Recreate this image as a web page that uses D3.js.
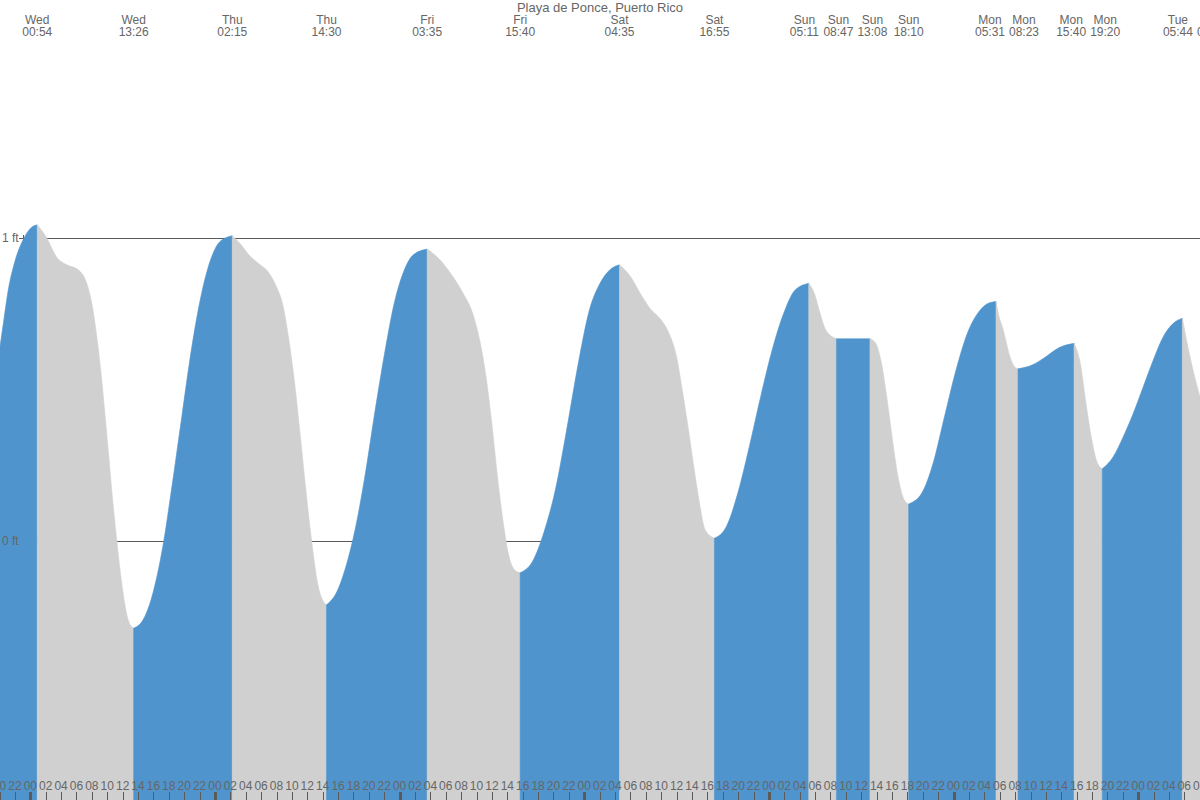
<!DOCTYPE html>
<html><head><meta charset="utf-8">
<script src="https://cdn.jsdelivr.net/npm/d3@7"></script>
<style>html,body{margin:0;padding:0;background:#fff;overflow:hidden}</style>
</head><body><svg id="chart" width="1200" height="800"></svg>
<script>
// ---------- data ----------
const title = "Playa de Ponce, Puerto Rico";
const baseDate = "2024-01-03T00:00:00Z"; // a Wednesday, hours below are counted from its midnight
const viewHours = [-3.94, 152.03];
const feetDomain = [-0.855, 1.785];

const extremeHours = [0.9, 13.433, 26.25, 38.5, 51.583, 63.667, 76.583, 88.917, 101.183, 104.783, 109.133, 114.167, 125.517, 128.383, 135.667, 139.333, 149.733, 153.0];
const extremeFeet  = [1.043, -0.288, 1.007, -0.211, 0.963, -0.105, 0.911, 0.009, 0.850, 0.667, 0.667, 0.122, 0.790, 0.568, 0.652, 0.238, 0.735, 0.40];
const extremeDay   = ["Wed","Wed","Thu","Thu","Fri","Fri","Sat","Sat","Sun","Sun","Sun","Sun","Mon","Mon","Mon","Mon","Tue","Tue"];
const extremeTime  = ["00:54","13:26","02:15","14:30","03:35","15:40","04:35","16:55","05:11","08:47","13:08","18:10","05:31","08:23","15:40","19:20","05:44","09:00"];

const curveHours = [
  -4.46,-3.94,-3.44,-2.94,-1.95,-0.95,0.04,
  2.03,3.52,4.77,6.26,7.25,7.99,8.75,9.24,9.73,10.24,10.74,11.23,11.72,12.23,12.72,
  14.71,15.96,17.20,18.44,19.69,20.93,22.17,23.42,24.66,
  27.40,28.40,29.88,30.88,31.87,32.87,33.61,34.36,35.10,35.86,36.60,37.34,38.09,
  39.84,41.07,42.32,43.57,44.80,46.05,47.30,48.53,49.78,
  53.26,54.76,56.25,57.49,58.49,59.23,59.98,60.72,61.48,62.22,62.96,
  65.27,66.75,68.24,69.68,71.18,72.67,74.05,75.30,
  78.02,79.27,80.52,82.00,83.00,83.99,84.74,85.48,86.24,86.98,87.72,
  90.46,91.95,93.45,94.93,96.42,97.92,99.41,
  101.90,102.65,103.39,
  109.88,110.63,111.37,112.12,112.86,113.60,
  115.85,117.34,118.82,120.32,121.81,123.31,124.29,
  125.81,126.46,127.33,127.98,
  130.27,132.0,133.74,
  136.47,137.21,137.97,138.71,
  140.76,142.06,143.36,144.66,145.96,147.26,148.56,
  150.73,152.03
];
const curveFeet = [
  0.55,0.641,0.729,0.817,0.927,0.993,1.032,
  1.004,0.933,0.911,0.894,0.856,0.784,0.652,0.542,0.410,0.267,0.124,0.003,-0.107,-0.200,-0.261,
  -0.258,-0.170,-0.022,0.185,0.410,0.630,0.806,0.927,0.988,
  0.977,0.944,0.911,0.889,0.845,0.773,0.663,0.520,0.344,0.157,-0.008,-0.140,-0.200,
  -0.168,-0.080,0.050,0.226,0.428,0.619,0.784,0.889,0.944,
  0.927,0.878,0.817,0.751,0.652,0.542,0.388,0.212,0.058,-0.052,-0.096,
  -0.068,0.028,0.168,0.362,0.580,0.762,0.850,0.894,
  0.872,0.817,0.768,0.729,0.686,0.608,0.498,0.377,0.245,0.124,0.036,
  0.047,0.157,0.311,0.476,0.630,0.751,0.828,
  0.817,0.751,0.696,
  0.652,0.586,0.465,0.322,0.201,0.135,
  0.157,0.256,0.410,0.564,0.686,0.757,0.781,
  0.751,0.696,0.608,0.573,
  0.581,0.608,0.638,
  0.586,0.454,0.333,0.256,
  0.278,0.344,0.421,0.509,0.597,0.674,0.718,
  0.608,0.476
];
const yTickValues = [0, 1];
const yTickLabels = ["0 ft", "1 ft"];

// ---------- drawing ----------
const W = 1200, H = 800;
const BLUE = "#4f94cd", GREY = "#d0d0d0", TEXT = "#666", LINE = "#5a5a5a";
const FONT = "'Liberation Sans', Arial, Helvetica, sans-serif";
const base = new Date(baseDate).getTime();
const toDate = h => new Date(base + h * 3600000);

const x = d3.scaleUtc().domain(viewHours.map(toDate)).range([0, W]);
const y = d3.scaleLinear().domain(feetDomain).range([H, 0]);

const svg = d3.select("#chart").style("font-family", FONT);

// grid lines (under the areas)
svg.append("g").selectAll("line").data(yTickValues).join("line")
  .attr("x1", 20).attr("x2", W)
  .attr("y1", d => Math.round(y(d)) + 0.5).attr("y2", d => Math.round(y(d)) + 0.5)
  .attr("stroke", LINE).attr("stroke-width", 1);
const yt = svg.append("g").attr("stroke", LINE).attr("stroke-width", 1);
yt.selectAll("line.h").data(yTickValues).join("line").attr("class", "h")
  .attr("x1", 19).attr("x2", 27)
  .attr("y1", d => Math.round(y(d)) + 0.5).attr("y2", d => Math.round(y(d)) + 0.5);
yt.selectAll("line.v").data(yTickValues).join("line").attr("class", "v")
  .attr("x1", 23.5).attr("x2", 23.5)
  .attr("y1", d => Math.round(y(d)) - 3).attr("y2", d => Math.round(y(d)) + 4);

// merge curve samples with extremes
const pts = curveHours.map((h, i) => ({h, f: curveFeet[i]}))
  .concat(extremeHours.map((h, i) => ({h, f: extremeFeet[i]})))
  .sort((a, b) => a.h - b.h);

const bounds = [pts[0].h].concat(extremeHours).concat([pts[pts.length - 1].h]);
const area = d3.area()
  .x(d => x(toDate(d.h)))
  .y0(H)
  .y1(d => y(d.f))
  .curve(d3.curveMonotoneX);

const segs = [];
for (let k = 0; k < bounds.length - 1; k++) {
  const a = bounds[k], b = bounds[k + 1];
  if (b <= a) continue;
  const p = pts.filter(d => d.h >= a && d.h <= b);
  // segment 0 rises to the first (high) extreme; after a high it falls, after a low it rises
  const rising = k === 0 ? true : ((k - 1) % 2 === 1);
  segs.push({p, rising});
}
svg.append("g").selectAll("path").data(segs).join("path")
  .attr("d", d => area(d.p))
  .attr("fill", d => d.rising ? BLUE : GREY)
  .attr("stroke", d => d.rising ? BLUE : GREY)
  .attr("stroke-width", 0.6);

// y labels
svg.append("g").selectAll("text").data(yTickValues).join("text")
  .attr("x", 2).attr("y", d => y(d) + 4)
  .attr("font-size", 12).attr("fill", TEXT)
  .text((d, i) => yTickLabels[i]);

// bottom hour axis
const hourTicks = d3.utcHour.every(2).range(toDate(viewHours[0] - 2), toDate(viewHours[1] + 2));
const bx = svg.append("g");
bx.selectAll("line").data(hourTicks).join("line")
  .attr("x1", d => Math.round(x(d)) + 0.5).attr("x2", d => Math.round(x(d)) + 0.5)
  .attr("y1", 792).attr("y2", H)
  .attr("stroke", LINE)
  .attr("stroke-width", d => d.getUTCHours() === 0 ? 3 : 1);
bx.selectAll("text").data(hourTicks).join("text")
  .attr("x", d => x(d)).attr("y", 790)
  .attr("text-anchor", "middle").attr("font-size", 12).attr("fill", TEXT)
  .text(d3.utcFormat("%H"));

// top extreme labels with simple collision avoidance
const lab = extremeHours.map((h, i) => ({cx: x(toDate(h)), day: extremeDay[i], t: extremeTime[i]}));
const minGap = 34;
for (let it = 0; it < 50; it++) {
  for (let i = 0; i < lab.length - 1; i++) {
    const g = lab[i + 1].cx - lab[i].cx;
    if (g < minGap) {
      const d = (minGap - g) / 2;
      lab[i].cx -= d; lab[i + 1].cx += d;
    }
  }
}
const tl = svg.append("g").attr("font-size", 12).attr("fill", TEXT).attr("text-anchor", "middle");
tl.selectAll("text.d").data(lab).join("text").attr("class", "d")
  .attr("x", d => d.cx).attr("y", 23.5).text(d => d.day);
tl.selectAll("text.t").data(lab).join("text").attr("class", "t")
  .attr("x", d => d.cx).attr("y", 36).text(d => d.t);

svg.append("text").attr("x", W / 2).attr("y", 12)
  .attr("text-anchor", "middle").attr("font-size", 13).attr("fill", TEXT)
  .text(title);
</script>
</body></html>
